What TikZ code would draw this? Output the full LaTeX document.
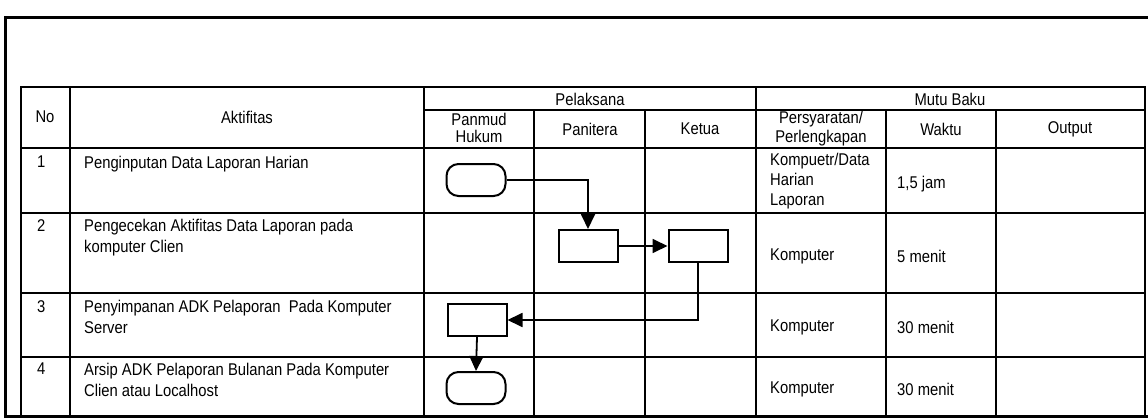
\documentclass[tikz,border=0pt]{standalone}
\usepackage{fontspec}
\setmainfont[FakeStretch=0.87]{Liberation Sans}
\usetikzlibrary{arrows.meta}
\begin{document}
\begin{tikzpicture}[x=1pt,y=-1pt,
  gridline/.style={line width=1.8pt},
  frameline/.style={line width=3pt},
  proc/.style={draw,line width=2pt,minimum width=59pt,minimum height=32pt,inner sep=0pt},
  term/.style={proc,rounded corners=12pt},
  flow/.style={line width=1.8pt,-{Triangle[length=15pt,width=14pt]}},
  txt/.style={font=\fontsize{17}{21}\selectfont,inner sep=0pt},
  hdr2/.style={txt,align=center,font=\fontsize{17}{17}\selectfont},
  rowtxt/.style={txt,align=left,anchor=north west},
  celltxt/.style={txt,align=left,anchor=west}]
\useasboundingbox (0,0) rectangle (1148,420);
% outer frame
\draw[frameline] (1148,18) -- (5,18) -- (5,416) -- (1148,416);
% table grid
\draw[gridline] (21,87) rectangle (1145,416);
\draw[gridline] (424,110) -- (1145,110);
\foreach \y in {148,213,293,357} \draw[gridline] (21,\y) -- (1145,\y);
\foreach \x in {70,424,756} \draw[gridline] (\x,87) -- (\x,416);
\foreach \x in {534,645,886,996} \draw[gridline] (\x,110) -- (\x,416);
% header texts
\node[txt] (hNo) at (45,117) {No};
\node[txt] (hAkt) at (247,117) {Aktifitas};
\node[txt] (hPel) at (590,99) {Pelaksana};
\node[txt] (hMutu) at (950,99) {Mutu Baku};
\node[hdr2] (hPanmud) at (479,128) {Panmud\\Hukum};
\node[txt] (hPanit) at (590,129) {Panitera};
\node[txt] (hKetua) at (700,129) {Ketua};
\node[hdr2,font=\fontsize{17}{19}\selectfont] (hPers) at (821,129) {Persyaratan/\\Perlengkapan};
\node[txt] (hWaktu) at (941,129) {Waktu};
\node[txt] (hOutput) at (1070,129) {Output};
% row numbers and activities
\node[rowtxt] (n1) at (37,156) {1};
\node[rowtxt] (a1) at (84,156) {Penginputan Data Laporan Harian};
\node[rowtxt] (n2) at (37,219) {2};
\node[rowtxt] (a2) at (84,219) {Pengecekan Aktifitas Data Laporan pada\\komputer Clien};
\node[rowtxt] (n3) at (37,300) {3};
\node[rowtxt] (a3) at (84,300) {Penyimpanan ADK Pelaporan\ \ Pada Komputer\\Server};
\node[rowtxt] (n4) at (37,363) {4};
\node[rowtxt] (a4) at (84,363) {Arsip ADK Pelaporan Bulanan Pada Komputer\\Clien atau Localhost};
% mutu baku cells
\node[celltxt,font=\fontsize{17}{20}\selectfont] (p1) at (770,181) {Kompuetr/Data\\Harian\\Laporan};
\node[celltxt] (w1) at (897,184) {1,5 jam};
\node[celltxt] (p2) at (770,256) {Komputer};
\node[celltxt] (w2) at (897,256) {5 menit};
\node[celltxt] (p3) at (770,327) {Komputer};
\node[celltxt] (w3) at (897,327) {30 menit};
\node[celltxt] (p4) at (770,389) {Komputer};
\node[celltxt] (w4) at (897,389) {30 menit};
% flow shapes
\node[term] (t1) at (476,180) {};
\node[proc] (a) at (588,246) {};
\node[proc] (b) at (698,246) {};
\node[proc] (c) at (477,320) {};
\node[term] (t2) at (476,388) {};
% connectors
\draw[flow] (t1.east) -| (a.north);
\draw[flow] (a.east) -- (b.west);
\draw[flow] (b.south) |- (c.east);
\draw[flow] (c.south) -- (t2.north);
\end{tikzpicture}
\end{document}
